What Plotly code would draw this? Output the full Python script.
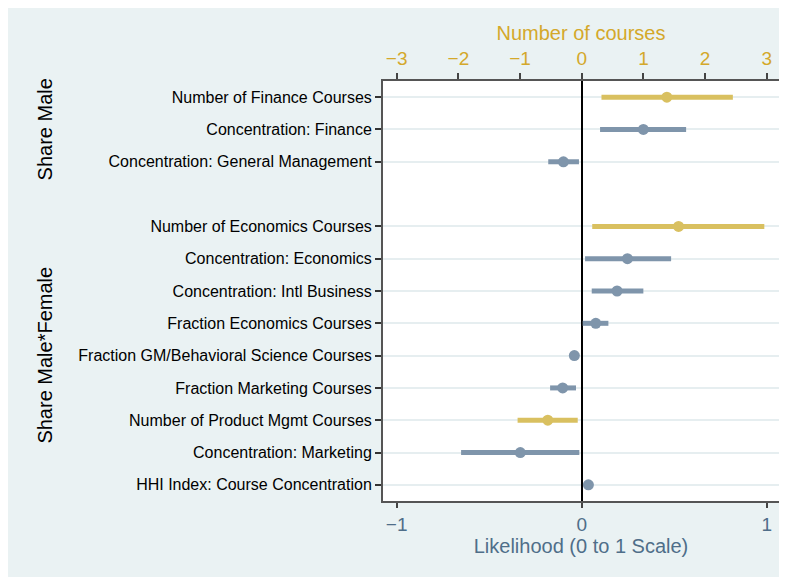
import plotly.graph_objects as go

# Row labels (blank row 3 separates groups)
row_labels = [
    "Number of Finance Courses",
    "Concentration: Finance",
    "Concentration: General Management",
    "",
    "Number of Economics Courses",
    "Concentration: Economics",
    "Concentration: Intl Business",
    "Fraction Economics Courses",
    "Fraction GM/Behavioral Science Courses",
    "Fraction Marketing Courses",
    "Number of Product Mgmt Courses",
    "Concentration: Marketing",
    "HHI Index: Course Concentration",
]

# Likelihood-scale estimates (bottom axis)
lik_rows = [1, 2, 5, 6, 7, 8, 9, 11, 12]
lik_est = [0.333, -0.099, 0.247, 0.191, 0.076, -0.040, -0.103, -0.332, 0.036]
lik_lo = [0.099, -0.181, 0.018, 0.054, 0.005, -0.058, -0.171, -0.652, 0.022]
lik_hi = [0.564, -0.015, 0.483, 0.333, 0.144, -0.024, -0.031, -0.013, 0.050]

# Number-of-courses estimates (top axis)
num_rows = [0, 4, 10]
num_est = [1.38, 1.57, -0.55]
num_lo = [0.32, 0.17, -1.04]
num_hi = [2.45, 2.96, -0.065]

top_ticks = [-3, -2, -1, 0, 1, 2, 3]
bottom_ticks = [-1, 0, 1]

BLUE = "#7f95ab"
GOLD = "#d9c060"
GOLD_TXT = "#d4a82a"
NAVY_TXT = "#4f6e89"
BG = "#eaf2f3"
GRID = "#e6eef0"
FONT = "Liberation Sans"

fig = go.Figure()

fig.add_trace(go.Scatter(
    x=lik_est, y=lik_rows, mode="markers",
    marker=dict(color=BLUE, size=11),
    error_x=dict(type="data", symmetric=False,
                 array=[h - e for h, e in zip(lik_hi, lik_est)],
                 arrayminus=[e - l for e, l in zip(lik_est, lik_lo)],
                 color=BLUE, thickness=5, width=0),
    xaxis="x", yaxis="y", showlegend=False,
))

fig.add_trace(go.Scatter(
    x=num_est, y=num_rows, mode="markers",
    marker=dict(color=GOLD, size=11),
    error_x=dict(type="data", symmetric=False,
                 array=[h - e for h, e in zip(num_hi, num_est)],
                 arrayminus=[e - l for e, l in zip(num_est, num_lo)],
                 color=GOLD, thickness=5, width=0),
    xaxis="x2", yaxis="y", showlegend=False,
))

# page body adds an 8px offset
W, H = 779, 569
L, R, T, B = 375, 8, 73, 76
pw = W - L - R
ph = H - T - B

lo_b, hi_b = -1.074, 1.066
tick_rows = [i for i, t in enumerate(row_labels) if t]

fig.update_layout(
    width=W, height=H,
    margin=dict(l=L, r=R, t=T, b=B, pad=0),
    paper_bgcolor=BG, plot_bgcolor="white",
    font=dict(family=FONT, color="black"),
    xaxis=dict(
        range=[lo_b, hi_b], tickvals=bottom_ticks,
        ticks="outside", ticklen=5, tickcolor="#444", tickwidth=1.5,
        tickfont=dict(size=19, color=NAVY_TXT, family=FONT),
        title=dict(text="Likelihood (0 to 1 Scale)", font=dict(size=20, color=NAVY_TXT, family=FONT), standoff=2),
        showgrid=False, zeroline=True, zerolinecolor="black", zerolinewidth=2,
        showline=True, linecolor="#555", linewidth=2, mirror=False,
    ),
    xaxis2=dict(
        range=[lo_b * 3, hi_b * 3], tickvals=top_ticks, overlaying="x", side="top",
        ticks="outside", ticklen=6, tickcolor="#444", tickwidth=1.5,
        tickfont=dict(size=19, color=GOLD_TXT, family=FONT),
        title=dict(text="Number of courses", font=dict(size=20, color=GOLD_TXT, family=FONT), standoff=2),
        showgrid=False, zeroline=False,
        showline=True, linecolor="#555", linewidth=2,
    ),
    yaxis=dict(
        range=[12.5, -0.5], tickvals=tick_rows, ticktext=[row_labels[i] for i in tick_rows],
        ticks="outside", ticklen=6, tickcolor="#333", tickwidth=1.5,
        tickfont=dict(size=16, color="black", family=FONT),
        showgrid=True, gridcolor=GRID, gridwidth=2,
        zeroline=False, showline=True, linecolor="#555", linewidth=2,
    ),
)

for text, yv in [("Share Male", 1), ("Share Male*Female", 8)]:
    fig.add_annotation(text=text, xref="paper", yref="y",
                       x=(37 - L) / pw, y=yv, textangle=-90,
                       showarrow=False, font=dict(size=20, color="black", family=FONT),
                       xanchor="center", yanchor="middle")

fig.write_html("out.html")
